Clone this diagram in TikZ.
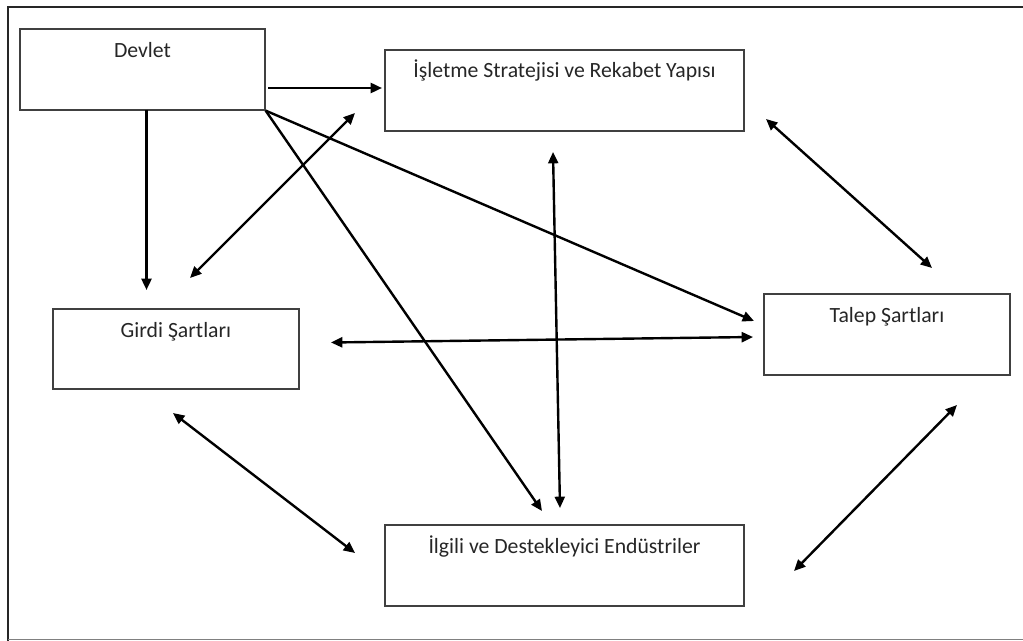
\documentclass[tikz,border=0pt]{standalone}
\usepackage{fontspec}
\setmainfont{Carlito}
\usetikzlibrary{arrows.meta}
\begin{document}
\begin{tikzpicture}[x=0.75pt,y=-0.75pt,
  box/.style={draw=black!75,line width=0.9pt,rectangle,inner sep=0pt,minimum height=81*0.75pt},
  lbl/.style={anchor=base,inner sep=0pt,text=black!85,font=\fontsize{16.3pt}{19pt}\selectfont},
  tip/.style={Triangle[length=8.5pt,width=7.5pt]},
  conn/.style={line width=1.8pt,-{Triangle[length=8.5pt,width=7.5pt]}},
  biconn/.style={line width=1.8pt,{Triangle[length=8.5pt,width=7.5pt]}-{Triangle[length=8.5pt,width=7.5pt]}}]
  \useasboundingbox (0,0) rectangle (1023,641);
  % outer frame
  \draw[line width=1.8pt,black!85] (8,641) -- (8,7) -- (1023,7);
  \draw[line width=0.9pt,black!50] (8,639.5) -- (1023,639.5);

  % boxes
  \node[box,minimum width=245*0.75pt] (devlet) at (142.5,69.5) {};
  \node[box,minimum width=359*0.75pt] (isletme) at (564.5,90.5) {};
  \node[box,minimum width=246*0.75pt,minimum height=80*0.75pt] (girdi) at (176,349) {};
  \node[box,minimum width=246*0.75pt] (talep) at (887,334.5) {};
  \node[box,minimum width=359*0.75pt] (ilgili) at (564.5,565.5) {};

  % box titles
  \node[lbl] (devletT) at (142.5,58) {Devlet};
  \node[lbl] (isletmeT) at (564.5,78) {İşletme Stratejisi ve Rekabet Yapısı};
  \node[lbl] (girdiT) at (176,337) {Girdi Şartları};
  \node[lbl] (talepT) at (887,322) {Talep Şartları};
  \node[lbl] (ilgiliT) at (564.5,553) {İlgili ve Destekleyici Endüstriler};

  % connector end points
  \coordinate (d1) at (268,88);   \coordinate (s1) at (382,88);
  \coordinate (d2) at (146.5,110); \coordinate (g1) at (146.5,290);
  \coordinate (i1) at (542,511);
  \coordinate (t1) at (754,321);
  \coordinate (g2) at (190,278);  \coordinate (s2) at (355,113);
  \coordinate (s3) at (553,152);  \coordinate (i2) at (560,508);
  \coordinate (s4) at (766,119);  \coordinate (t2) at (932,268);
  \coordinate (g3) at (331,342.5); \coordinate (t3) at (753,337);
  \coordinate (g4) at (173,413);  \coordinate (i3) at (355,553);
  \coordinate (t4) at (957,405);  \coordinate (i4) at (794,571);

  % one-way influences of the state
  \draw[conn] (d1) -- (s1);
  \draw[conn] (d2) -- (g1);
  \draw[conn] (devlet.south east) -- (i1);
  \draw[conn] (devlet.south east) -- (t1);

  % mutual relations
  \draw[biconn] (g2) -- (s2);
  \draw[biconn] (s3) -- (i2);
  \draw[biconn] (s4) -- (t2);
  \draw[biconn] (g3) -- (t3);
  \draw[biconn] (g4) -- (i3);
  \draw[biconn] (t4) -- (i4);
\end{tikzpicture}
\end{document}
